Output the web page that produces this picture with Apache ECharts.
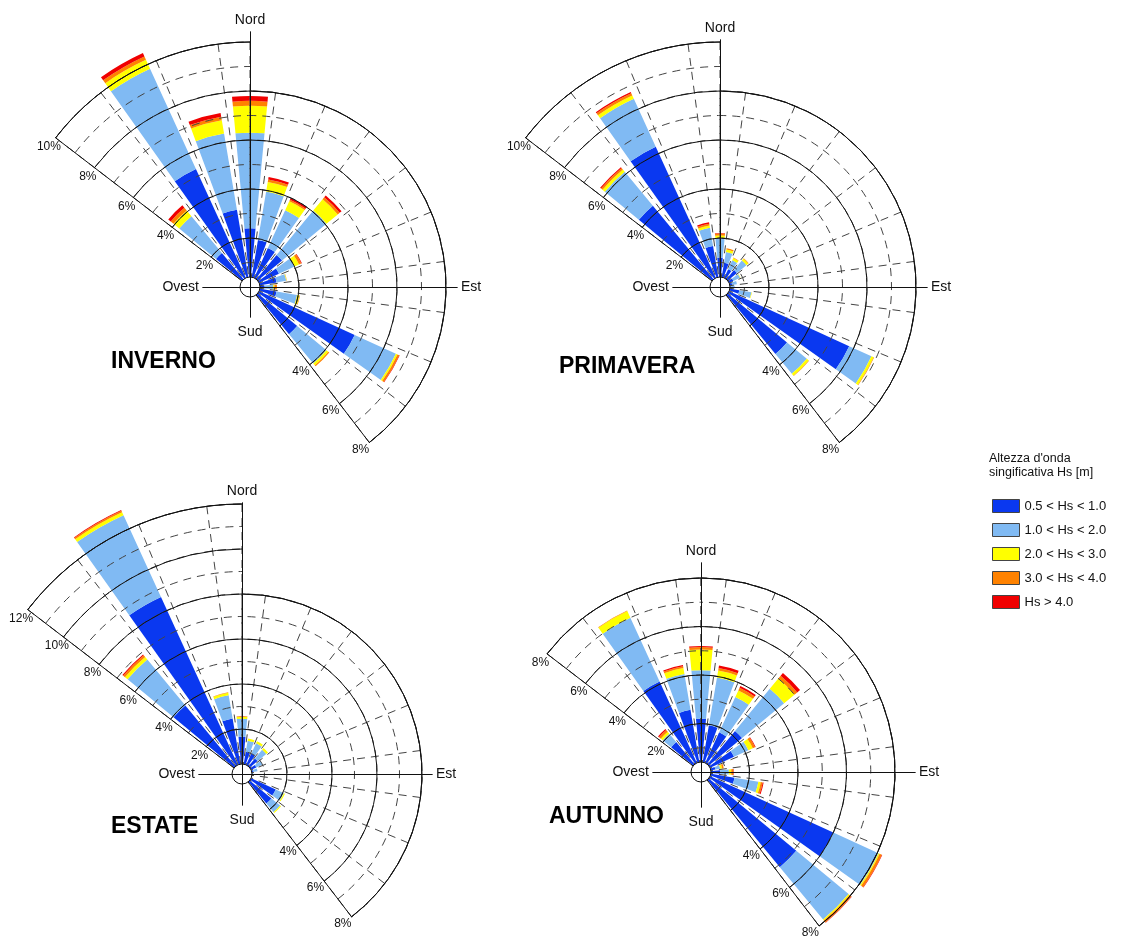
<!DOCTYPE html>
<html><head><meta charset="utf-8">
<script src="https://cdn.jsdelivr.net/npm/echarts@6/dist/echarts.min.js"></script>
<style>html,body{margin:0;padding:0;background:#fff}#c{width:1128px;height:936px}</style>
</head><body><div id="c"></div>
<script>
// Directions (bearing of sector centre, degrees clockwise from North)
const directions = ['315','330','345','0','15','30','45','60','75','90','105','120','135'];
const classNames = ['0.5 < Hs < 1.0','1.0 < Hs < 2.0','2.0 < Hs < 3.0','3.0 < Hs < 4.0','Hs > 4.0'];
const classColors = ['#0a38f0','#80baf3','#ffff00','#ff8200','#f00000'];

// Frequency (%) per direction, per Hs class
const inverno1 = [1.8, 5.3, 3.2, 2.4, 1.95, 1.75, 1.7, 1.3, 1.1, 0.6, 1.1, 4.7, 2.5];
const inverno2 = [1.95, 4.5, 3.15, 3.9, 2.0, 1.7, 2.35, 0.7, 0.4, 0.35, 0.85, 1.85, 1.55];
const inverno3 = [0.3, 0.4, 0.55, 1.1, 0.4, 0.4, 0.6, 0.2, 0.02, 0.05, 0.1, 0.07, 0.1];
const inverno4 = [0.15, 0.15, 0.15, 0.2, 0.1, 0.07, 0.1, 0.1, 0.01, 0.1, 0.02, 0.08, 0.05];
const inverno5 = [0.13, 0.15, 0.15, 0.2, 0.1, 0.08, 0.1, 0.03, 0, 0, 0, 0.02, 0];

const primavera1 = [4.3, 6.3, 1.7, 1.2, 1.0, 0.8, 0.9, 0.6, 0.5, 0.4, 0.8, 5.8, 3.55];
const primavera2 = [1.8, 2.15, 0.75, 0.8, 0.45, 0.4, 0.5, 0.3, 0.2, 0.2, 0.5, 1.0, 1.05];
const primavera3 = [0.12, 0.15, 0.1, 0.1, 0.1, 0.1, 0.1, 0.02, 0, 0, 0.02, 0.1, 0.1];
const primavera4 = [0.08, 0.1, 0.07, 0.08, 0.05, 0.02, 0.02, 0, 0, 0, 0, 0.02, 0.02];
const primavera5 = [0.05, 0.05, 0.06, 0.02, 0, 0, 0, 0, 0, 0, 0, 0, 0];

const estate1 = [3.95, 8.65, 2.5, 1.65, 1.0, 1.0, 0.9, 0.7, 0.5, 0.35, 0.3, 1.65, 1.7];
const estate2 = [2.65, 4.0, 1.05, 0.8, 0.5, 0.5, 0.5, 0.3, 0.2, 0.15, 0.1, 0.4, 0.5];
const estate3 = [0.15, 0.15, 0.11, 0.1, 0.1, 0.1, 0.1, 0, 0, 0, 0, 0.05, 0.05];
const estate4 = [0.1, 0.07, 0.02, 0.02, 0, 0, 0, 0, 0, 0, 0, 0, 0];
const estate5 = [0.05, 0.03, 0, 0, 0, 0, 0, 0, 0, 0, 0, 0, 0];

const autunno1 = [1.6, 4.1, 2.6, 2.2, 1.95, 1.8, 2.2, 1.5, 0.6, 0.8, 1.4, 6.0, 5.1];
const autunno2 = [0.45, 2.9, 1.5, 2.0, 2.0, 1.6, 2.25, 0.65, 0.2, 0.35, 1.0, 2.05, 2.8];
const autunno3 = [0.1, 0.3, 0.25, 0.85, 0.3, 0.3, 0.55, 0.2, 0.08, 0.1, 0.1, 0.05, 0.05];
const autunno4 = [0.1, 0.02, 0.07, 0.1, 0.1, 0.12, 0.15, 0.1, 0.07, 0.08, 0.08, 0.1, 0.1];
const autunno5 = [0.05, 0, 0.05, 0.05, 0.1, 0.08, 0.15, 0.03, 0, 0.02, 0.04, 0.02, 0.02];

const seasonNames = ['INVERNO', 'PRIMAVERA', 'ESTATE', 'AUTUNNO'];
const seasonData = [
  [inverno1, inverno2, inverno3, inverno4, inverno5],
  [primavera1, primavera2, primavera3, primavera4, primavera5],
  [estate1, estate2, estate3, estate4, estate5],
  [autunno1, autunno2, autunno3, autunno4, autunno5]
];
// Axis ranges (%) of each rose: NW part, rest of sector
const nwMax = [10, 10, 12, 8];
const mainMax = [8, 8, 8, 8];

// Layout (pixels)
const layout = [
  {cx: 250, cy: 287, unit: 24.5, west: 47, east: 207, north: 255, south: 30, tx: 111, ty: 350},
  {cx: 720, cy: 287, unit: 24.5, west: 47, east: 207, north: 247, south: 30, tx: 559, ty: 355},
  {cx: 242, cy: 774, unit: 22.5, west: 43, east: 190, north: 271, south: 31, tx: 111, ty: 815},
  {cx: 701, cy: 772, unit: 24.25, west: 48, east: 214, north: 209, south: 35, tx: 549, ty: 805}
];

const FONT = '"Liberation Sans", Arial, sans-serif';
const dashStyle = {color: '#444', width: 1, type: [8, 6]};
const solidStyle = {color: '#111', width: 1};

const option = {
  animation: false,
  backgroundColor: '#fff',
  textStyle: {fontFamily: FONT},
  title: [],
  legend: {
    data: classNames, orient: 'vertical', left: 987, top: 494,
    itemWidth: 27, itemHeight: 13, itemGap: 10, icon: 'rect',
    selectedMode: false,
    itemStyle: {borderColor: '#444', borderWidth: 1},
    textStyle: {fontSize: 13, color: '#111', fontFamily: FONT}
  },
  polar: [], angleAxis: [], radiusAxis: [],
  grid: [], xAxis: [], yAxis: [],
  series: []
};

option.title.push({
  text: "Altezza d'onda\nsingificativa Hs [m]", left: 989, top: 452, padding: 0,
  textStyle: {fontSize: 12.5, fontWeight: 'normal', lineHeight: 14, color: '#111', fontFamily: FONT}
});

function addGridPolar(L, maxV, startAngle, endAngle, clockwise, angleMax, interval, dashed, labelFmt, margin) {
  const p = option.polar.length;
  option.polar.push({center: [L.cx, L.cy], radius: maxV * L.unit});
  option.angleAxis.push({polarIndex: p, type: 'value', min: 0, max: angleMax, interval: 15,
    startAngle: startAngle, endAngle: endAngle, clockwise: clockwise, z: dashed ? 3 : 4,
    axisLine: {show: !dashed, lineStyle: solidStyle}, axisTick: {show: false}, axisLabel: {show: false},
    splitLine: {show: dashed, lineStyle: dashStyle}});
  option.radiusAxis.push({polarIndex: p, type: 'value', min: 0, max: maxV, interval: interval, z: dashed ? 3 : 4,
    axisLine: {show: !dashed, lineStyle: solidStyle}, axisTick: {show: false},
    axisLabel: dashed ? {show: false} : {show: true, margin: margin, fontSize: 12, color: '#111',
      align: 'center', verticalAlign: 'middle', formatter: labelFmt},
    splitLine: {show: true, lineStyle: dashed ? dashStyle : solidStyle}});
}

seasonNames.forEach((name, i) => {
  const L = layout[i];
  const data = seasonData[i];
  let total = 0;
  directions.forEach((d, j) => { let s = 0; data.forEach(a => s += a[j]); total = Math.max(total, s); });
  const barMax = Math.ceil(total + 1);

  option.title.push({
    text: name, left: L.tx, top: L.ty, padding: 0,
    textStyle: {fontSize: 23, fontWeight: 'bold', color: '#000', fontFamily: FONT}
  });

  // Bars polar
  const pb = option.polar.length;
  option.polar.push({center: [L.cx, L.cy], radius: barMax * L.unit});
  option.angleAxis.push({polarIndex: pb, type: 'category', data: directions,
    startAngle: 142.5, endAngle: -52.5, clockwise: true, show: false});
  option.radiusAxis.push({polarIndex: pb, type: 'value', min: 0, max: barMax, show: false});

  // NW sector grid (bearing -52.5 .. 0): dashed every 1 %, solid every 2 % with labels
  addGridPolar(L, nwMax[i], 142.5, 90, true, 52.5, 1, true);
  addGridPolar(L, nwMax[i], 142.5, 90, true, 52.5, 2, false, v => v === 0 ? '' : v + '%', 11);
  // Main sector grid (bearing 0 .. 142.5), radius axis along the SE edge
  addGridPolar(L, mainMax[i], -52.5, 90, false, 142.5, 1, true);
  addGridPolar(L, mainMax[i], -52.5, 90, false, 142.5, 2, false, v => v >= 4 ? v + '%' : '', -11);

  classNames.forEach((cn, k) => {
    option.series.push({
      type: 'bar', coordinateSystem: 'polar', polarIndex: pb, name: cn, stack: 'rose' + i,
      data: data[k], barCategoryGap: '28%', z: 2, silent: true,
      itemStyle: {color: classColors[k]}
    });
  });

  // central hole
  option.series.push({
    type: 'pie', center: [L.cx, L.cy], radius: [0, 10], silent: true, z: 5,
    label: {show: false}, labelLine: {show: false}, legendHoverLink: false,
    itemStyle: {color: '#fff', borderColor: '#111', borderWidth: 1},
    data: [{value: 1, name: 'hole' + i}]
  });

  // Cross lines N-S / W-E with cardinal labels
  const g = option.grid.length;
  option.grid.push({left: L.cx - L.west, top: L.cy - L.north, width: L.west + L.east, height: L.north + L.south});
  const nameStyle = {fontSize: 14, color: '#111', fontFamily: FONT};
  const baseAx = {gridIndex: g, type: 'value', z: 6,
    axisLine: {show: true, onZero: true, lineStyle: solidStyle}, axisTick: {show: false},
    axisLabel: {show: false}, splitLine: {show: false}, nameTextStyle: nameStyle};
  option.xAxis.push(Object.assign({}, baseAx, {min: -L.west, max: L.east, name: 'Est', nameLocation: 'end', nameGap: 4}));
  option.xAxis.push(Object.assign({}, baseAx, {min: -L.west, max: L.east, name: 'Ovest', nameLocation: 'start', nameGap: 4, position: 'bottom'}));
  option.yAxis.push(Object.assign({}, baseAx, {min: -L.south, max: L.north, name: 'Nord', nameLocation: 'end', nameGap: 5}));
  option.yAxis.push(Object.assign({}, baseAx, {min: -L.south, max: L.north, name: 'Sud', nameLocation: 'start', nameGap: 8, position: 'left'}));
});

const chart = echarts.init(document.getElementById('c'), null, {renderer: 'canvas'});
chart.setOption(option);
</script>
</body></html>
